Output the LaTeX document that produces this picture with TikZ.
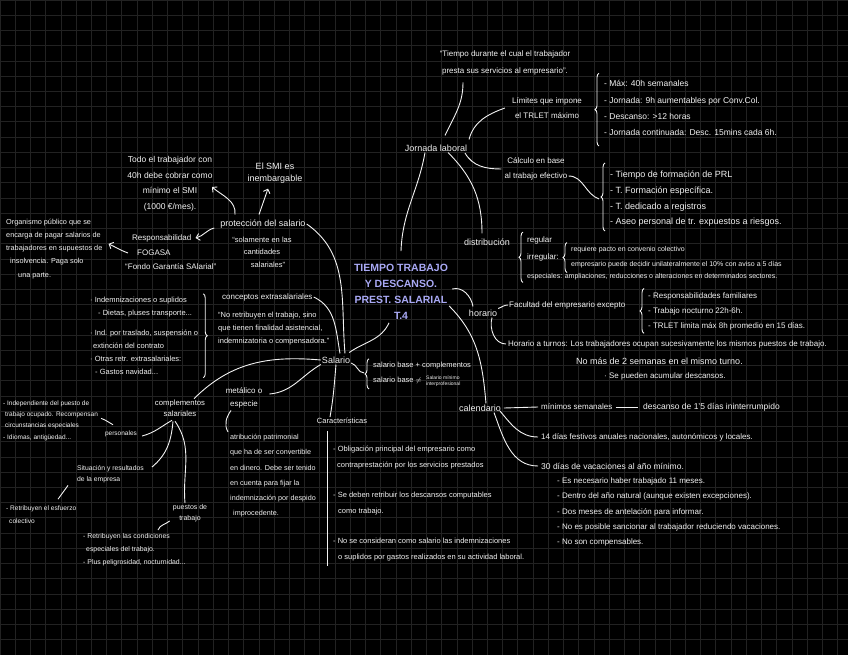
\documentclass[tikz,border=0pt]{standalone}
\usepackage{fontspec}
\setmainfont{Liberation Sans}
\usetikzlibrary{positioning,arrows.meta,decorations.pathreplacing}
\definecolor{pizarra}{HTML}{000000}
\definecolor{cuadricula}{HTML}{222222}
\definecolor{tiza}{HTML}{F2F2F2}
\definecolor{lila}{HTML}{A9A9F5}
\newcommand{\letra}[2]{\fontsize{#1}{#2}\selectfont}

\begin{document}
\begin{tikzpicture}[x=1pt, y=1pt,
    every node/.style={text=tiza, inner sep=1pt, align=left},
    titulo/.style={text=lila, align=center, font=\letra{10.5}{16}\bfseries},
    gde/.style={font=\letra{9}{11}},
    txt/.style={font=\letra{8}{13}},
    peq/.style={font=\letra{7}{12}},
    rejilla/.style={draw=cuadricula, line width=0.7pt},
    linea/.style={draw=tiza, line width=0.9pt},
    flecha/.style={linea, -{Straight Barb[length=3.5pt]}},
    llave/.style={linea, decorate, decoration={brace, amplitude=4pt}}]
        % Pizarra cuadriculada
        \useasboundingbox (0,0) rectangle (848,-655);
        \fill[pizarra] (0,0) rectangle (848,-655);
        \foreach \k in {0,...,55} \draw[rejilla] ({15.23*\k},0) -- ({15.23*\k},-655);
        \foreach \k in {0,...,43} \draw[rejilla] (0,{-15.23*\k}) -- (848,{-15.23*\k});

        % Tema central
        \node[titulo] (tema) at (401,-292) {TIEMPO TRABAJO\\Y DESCANSO.\\PREST. SALARIAL\\T.4};

        % Jornada laboral
        \node[gde] (jornada) at (436,-148) {Jornada laboral};
        \node[txt, align=center, font=\letra{8}{17}] (cita) at (505,-63) {“Tiempo durante el cual el trabajador\\presta sus servicios al empresario”.};
        \node[txt, align=center, font=\letra{8}{15}] (limites) at (547,-108) {Límites que impone\\el TRLET máximo};
        \node[txt, anchor=north west, font=\letra{8.5}{16.3}] (jitems) at (603,-79.3) {- Máx: 40h semanales\\- Jornada: 9h aumentables por Conv.Col.\\- Descanso: >12 horas\\- Jornada continuada: Desc. 15mins cada 6h.};
        \node[txt, align=center, font=\letra{8}{15}] (calculo) at (536,-169) {Cálculo en base\\al trabajo efectivo};
        \node[txt, anchor=north west, font=\letra{9}{15.7}] (fitems) at (609,-170) {- Tiempo de formación de PRL\\- T. Formación específica.\\- T. dedicado a registros\\- Aseo personal de tr. expuestos a riesgos.};
        \coordinate (fpunta) at ([xshift=-10]fitems.west);

        \node[gde] (distrib) at (487,-242) {distribución};
        \node[txt, anchor=west] (regular) at (526,-240) {regular};
        \node[txt, anchor=west] (irregular) at (526,-257) {irregular:};
        \node[peq, anchor=west] (pacto) at (570,-250) {requiere pacto en convenio colectivo};
        \node[peq, anchor=west] (decide) at (570,-265) {empresario puede decidir unilateralmente el 10\% con aviso a 5 días};
        \node[peq, anchor=west] (especiales) at (526,-277) {especiales: ampliaciones, reducciones o alteraciones en determinados sectores.};

        % Horario
        \node[gde] (horario) at (483,-313) {horario};
        \node[txt, anchor=west] (facultad) at (508,-305) {Facultad del empresario excepto};
        \node[txt, anchor=north west, font=\letra{8}{15}] (hitems) at (647,-291.5) {- Responsabilidades familiares\\- Trabajo nocturno 22h-6h.\\- TRLET limita máx 8h promedio en 15 días.};
        \node[txt, anchor=west] (turnos) at (507,-344) {Horario a turnos: Los trabajadores ocupan sucesivamente los mismos puestos de trabajo.};
        \node[txt, anchor=west, font=\letra{9}{9}] (turnos2) at (575,-361) {No más de 2 semanas en el mismo turno.};
        \node[txt, anchor=west] (turnos3) at (603,-376) {· Se pueden acumular descansos.};

        % Calendario
        \node[gde] (calendario) at (480,-408) {calendario};
        \node[txt, anchor=west] (minimos) at (540,-407) {mínimos semanales};
        \node[txt, anchor=west, font=\letra{8.5}{8.5}] (descanso) at (642,-407) {descanso de 1'5 días ininterrumpido};
        \node[txt, anchor=west] (festivos) at (540,-437) {14 días festivos anuales nacionales, autonómicos y locales.};
        \node[txt, anchor=west, font=\letra{8.5}{8.5}] (vacaciones) at (540,-466) {30 días de vacaciones al año mínimo.};
        \node[txt, anchor=north west, font=\letra{8}{15.3}] (vitems) at (556,-476.6) {- Es necesario haber trabajado 11 meses.\\- Dentro del año natural (aunque existen excepciones).\\- Dos meses de antelación para informar.\\- No es posible sancionar al trabajador reduciendo vacaciones.\\- No son compensables.};

        % Salario
        \node[gde] (salario) at (336,-360) {Salario};
        \node[txt, anchor=north west, font=\letra{7.5}{15}] (bitems) at (372,-360.8) {salario base + complementos\\salario base $\neq$};
        \node[txt, anchor=west, font=\letra{5}{6}] (smitxt) at (425,-381) {Salario mínimo\\interprofesional};
        \coordinate (bpunta) at ([xshift=-8]bitems.west);

        \node[gde] (proteccion) at (263,-224) {protección del salario};
        \node[txt, align=center, font=\letra{7.5}{12.5}] (solamente) at (262,-252) {“solamente en las\\cantidades\\\hspace*{12pt}salariales”};
        \node[txt, align=center, font=\letra{8.5}{15.5}] (todo) at (170,-184) {Todo el trabajador con\\40h debe cobrar como\\mínimo el SMI\\(1000 €/mes).};
        \node[txt, align=center, font=\letra{9}{12.5}] (smi) at (275,-173) {El SMI es\\inembargable};
        \node[txt, anchor=west] (resp) at (131,-238) {Responsabilidad};
        \node[txt, anchor=west] (fogasa) at (136,-253) {FOGASA};
        \node[txt, anchor=west] (fondo) at (124,-267) {“Fondo Garantía SAlarial”};
        \node[peq, anchor=north west, font=\letra{7.3}{13.2}] (organismo) at (5,-217.8) {Organismo público que se\\encarga de pagar salarios de\\trabajadores en supuestos de\\\hspace*{4pt}insolvencia. Paga solo\\\hspace*{12pt}una parte.};

        \node[txt, anchor=west] (conceptos) at (221,-297) {conceptos extrasalariales};
        \node[txt, anchor=north west, font=\letra{7.5}{13}] (nocita) at (217,-310.8) {“No retribuyen el trabajo, sino\\que tienen finalidad asistencial,\\indemnizatoria o compensadora.”};
        \node[txt, anchor=north west, font=\letra{7.5}{13}] (extras) at (89,-295.8) {· Indemnizaciones o suplidos\\\hspace*{8pt}- Dietas, pluses transporte...\\[7pt]· Ind. por traslado, suspensión o\\\hspace*{3pt}extinción del contrato\\· Otras retr. extrasalariales:\\\hspace*{5pt}- Gastos navidad...};

        \node[txt, align=center, font=\letra{8}{13}] (metalico) at (244,-398) {metálico o\\especie};
        \node[peq, anchor=north west, font=\letra{7.2}{15.3}] (atribucion) at (229,-432.9) {atribución patrimonial\\que ha de ser convertible\\en dinero. Debe ser tenido\\en cuenta para fijar la\\indemnización por despido\\\hspace*{3pt}improcedente.};

        \node[txt, font=\letra{7.5}{7.5}] (caract) at (342,-421) {Características};
        \node[txt, anchor=north west, font=\letra{7.5}{16}] (citems) at (332,-444.8) {- Obligación principal del empresario como\\\hspace*{4pt}contraprestación por los servicios prestados\\[14pt]- Se deben retribuir los descansos computables\\\hspace*{5pt}como trabajo.\\[14pt]- No se consideran como salario las indemnizaciones\\\hspace*{5pt}o suplidos por gastos realizados en su actividad laboral.};

        % Complementos salariales
        \node[txt, align=center, font=\letra{7.7}{10.5}] (complementos) at (180,-408) {complementos\\salariales};
        \node[peq, font=\letra{6.5}{6.5}] (personales) at (121,-434) {personales};
        \node[peq, anchor=north west, font=\letra{6.5}{11.3}] (perstxt) at (2,-399.2) {- Independiente del puesto de\\\hspace*{2pt}trabajo ocupado. Recompensan\\\hspace*{2pt}circunstancias especiales\\- Idiomas, antigüedad...};
        \node[peq, anchor=north west, font=\letra{6.8}{11.5}] (situacion) at (76,-464.1) {Situación y resultados\\de la empresa};
        \node[peq, anchor=north west, font=\letra{6.6}{13}] (retribuyen) at (5,-504.2) {- Retribuyen el esfuerzo\\\hspace*{3pt}colectivo};
        \node[peq, align=center, font=\letra{7}{11}] (puestos) at (190,-513) {puestos de\\trabajo};
        \node[peq, anchor=north west, font=\letra{6.9}{13}] (condiciones) at (82,-532) {- Retribuyen las condiciones\\\hspace*{3pt}especiales del trabajo.\\- Plus peligrosidad, nocturnidad...};

        % Llaves
        \draw[llave] ([shift={(-4,-9)}]jitems.south west) -- ([shift={(-4,6)}]jitems.north west);
        \draw[llave] ([shift={(-4,-3)}]fitems.south west) -- ([shift={(-4,7)}]fitems.north west);
        \draw[llave] ([shift={(-3,-1)}]especiales.south west) -- ([shift={(-3,3)}]regular.north west);
        \draw[llave] ([shift={(-3,-3)}]decide.south west) -- ([shift={(-3,3)}]pacto.north west);
        \draw[llave] ([shift={(-3,-2)}]hitems.south west) -- ([shift={(-3,3)}]hitems.north west);
        \draw[llave] ([shift={(-3,-4)}]bitems.south west) -- ([shift={(-3,2)}]bitems.north west);
        \draw[llave] ([shift={(4,2)}]extras.north east) -- ([shift={(4,-2)}]extras.south east);
        \draw[linea] ([shift={(-5,14)}]citems.north west) -- ([shift={(-5,-4)}]citems.south west);

        % Ramas de la jornada
        \draw[linea] ([shift={(-42,-6)}]cita.south) to[out=-90, in=65] ([shift={(9,8)}]jornada.north);
        \draw[linea] ([shift={(33,4)}]jornada.north) to[out=75, in=200] ([xshift=-6]limites.west);
        \draw[linea] ([shift={(29,-5)}]jornada.center) to[out=-60, in=180] ([xshift=-2]calculo.west);
        \draw[linea] ([shift={(0,-7)}]calculo.east) to[out=0, in=160] (fpunta);
        \draw[linea] ([xshift=-11]jornada.south) to[out=-100, in=88] ([yshift=12]tema.north);
        \draw[linea] ([xshift=12]jornada.south) to[out=-45, in=90] ([shift={(-5,4)}]distrib.north);

        % Ramas del tema
        \draw[linea] ([shift={(3,3)}]tema.east) to[out=15, in=100] ([shift={(-10,2)}]horario.north);
        \draw[linea] ([shift={(0,-14)}]tema.east) to[out=-45, in=95] ([xshift=6]calendario.north);
        \draw[linea] ([shift={(-2,3)}]salario.north east) to[out=35, in=-115] ([shift={(-12,-2)}]tema.south);

        % Horario y calendario
        \draw[linea] (horario.north east) to[out=20, in=180] (facultad.west);
        \draw[linea] ([xshift=9]horario.south) to[out=-105, in=180] ([xshift=-1]turnos.west);
        \draw[linea] ([xshift=2]calendario.east) -- ([xshift=-2]minimos.west);
        \draw[linea] ([xshift=2]minimos.east) -- ([xshift=-4]descanso.west);
        \draw[linea] ([shift={(-2,-3)}]calendario.east) to[out=-50, in=180] ([xshift=-2]festivos.west);
        \draw[linea] ([xshift=14]calendario.south) to[out=-70, in=180] ([xshift=-2]vacaciones.west);

        % Ramas del salario
        \draw[linea] (proteccion.east) to[out=-35, in=95] ([shift={(9,2)}]salario.north);
        \draw[linea] (conceptos.east) to[out=-25, in=100] ([shift={(4,2)}]salario.north);
        \draw[linea] ([yshift=-3]salario.east) to[out=-15, in=180] (bpunta);
        \draw[linea] (salario.south west) to[out=-150, in=5] ([shift={(6,4)}]metalico.east);
        \draw[linea] (salario.south) to[out=-95, in=80] ([xshift=-12]caract.north);
        \draw[linea] (salario.west) to[out=175, in=45] ([xshift=14]complementos.north);

        % Proteccion del salario
        \draw[flecha] ([shift={(-4,4)}]proteccion.north) -- ([shift={(-7,-4)}]smi.south);
        \draw[flecha] ([shift={(-28,4)}]proteccion.north) to[out=85, in=-40] ([shift={(42,-3)}]todo.center);
        \draw[flecha] ([shift={(-5,-4)}]proteccion.west) to[out=195, in=15] ([xshift=3]resp.east);
        \draw[flecha] ([xshift=-8]fogasa.west) to[out=160, in=-25] ([shift={(5,5)}]organismo.east);
        \draw[linea] ([shift={(-13,-1)}]metalico.south) to[out=-125, in=120] ([shift={(-1,1)}]atribucion.north west);

        % Complementos
        \draw[linea] ([shift={(-8,-3)}]complementos.south) to[out=-150, in=15] ([shift={(4,-2)}]personales.east);
        \draw[linea] ([shift={(-7,-4)}]complementos.south) to[out=-95, in=40] ([shift={(7,-3)}]situacion.north east);
        \draw[linea] ([shift={(-5,-4)}]complementos.south) to[out=-55, in=95] ([xshift=-5]puestos.north);
        \draw[linea] ([shift={(-8,5)}]personales.north) to[out=150, in=-20] ([shift={(2,2)}]perstxt.east);
        \draw[linea] ([shift={(-8,-1)}]situacion.south west) -- ([shift={(53,5)}]retribuyen.north west);
        \draw[linea] ([shift={(-2,2)}]puestos.south west) to[out=-140, in=70] ([shift={(76,2)}]condiciones.north west);
      \end{tikzpicture}
\end{document}
